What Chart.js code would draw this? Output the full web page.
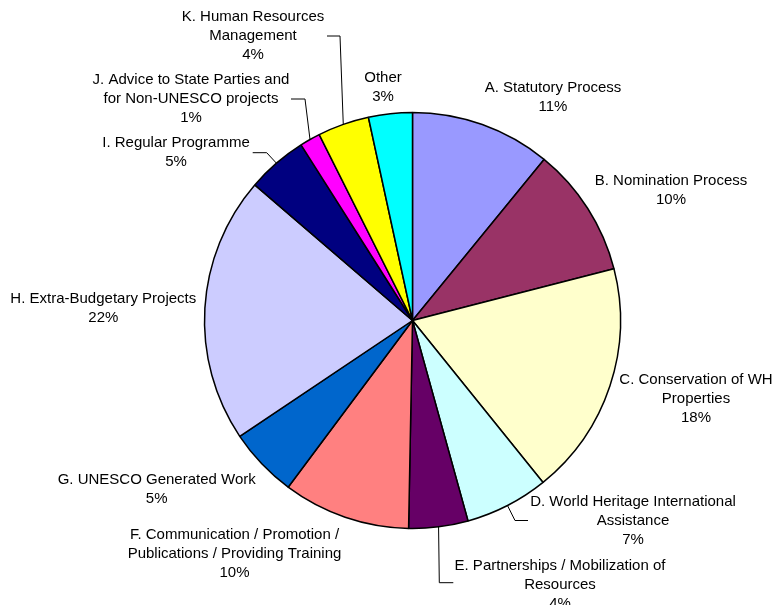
<!DOCTYPE html>
<html>
<head>
<meta charset="utf-8">
<script src="https://cdn.jsdelivr.net/npm/chart.js@4/dist/chart.umd.min.js"></script>
<style>
  html, body { margin: 0; padding: 0; background: #ffffff; }
  #wrap { width: 774px; height: 605px; }
</style>
</head>
<body>
<div id="wrap"><canvas id="c" width="774" height="605"></canvas></div>
<script>
// ---- data ----
const categories = [
  ['A. Statutory Process'],
  ['B. Nomination Process'],
  ['C. Conservation of WH', 'Properties'],
  ['D. World Heritage International', 'Assistance'],
  ['E. Partnerships / Mobilization of', 'Resources'],
  ['F. Communication / Promotion /', 'Publications / Providing Training'],
  ['G. UNESCO Generated Work'],
  ['H. Extra-Budgetary Projects'],
  ['I. Regular Programme'],
  ['J. Advice to State Parties and', 'for Non-UNESCO projects'],
  ['K. Human Resources', 'Management'],
  ['Other']
];
// slice sizes (percent of the whole)
const values = [10.9, 10.1, 18.2, 6.5, 4.6, 9.9, 5.4, 20.7, 4.7, 1.6, 4.0, 3.4];
// percentages printed in the labels
const shownPercent = [11, 10, 18, 7, 4, 10, 5, 22, 5, 1, 4, 3];
const colors = ['#9999FF', '#993366', '#FFFFCC', '#CCFFFF', '#660066', '#FF8080',
                '#0066CC', '#CCCCFF', '#000080', '#FF00FF', '#FFFF00', '#00FFFF'];

// ---- label layout (text block centre x, first-line centre y) ----
const labelPos = [
  [553, 88], [671, 181], [696, 380], [633, 502], [560, 566], [234.5, 535],
  [156.7, 480], [103.3, 299], [176, 143], [191, 80], [253, 17], [383, 78]
];
// leader lines: [elbowX, elbowY, endX] (start is taken from the slice edge)
const leaders = {
  3: [515, 520.5, 528],
  4: [439.3, 582.7, 453.3],
  8: [266.7, 152.7, 252.7],
  9: [305, 99, 291],
  10: [340, 36, 327]
};
const lineH = 19;

const labelPlugin = {
  id: 'pieLabels',
  afterDatasetsDraw(chart) {
    const ctx = chart.ctx;
    const meta = chart.getDatasetMeta(0);
    ctx.save();
    ctx.strokeStyle = '#000';
    ctx.lineWidth = 1;
    Object.keys(leaders).forEach(k => {
      const i = +k;
      const arc = meta.data[i];
      const mid = (arc.startAngle + arc.endAngle) / 2;
      const sx = arc.x + arc.outerRadius * Math.cos(mid);
      const sy = arc.y + arc.outerRadius * Math.sin(mid);
      const [ex, ey, endX] = leaders[k];
      ctx.beginPath();
      ctx.moveTo(sx, sy);
      ctx.lineTo(ex, ey);
      ctx.lineTo(endX, ey);
      ctx.stroke();
    });
    ctx.fillStyle = '#000';
    ctx.font = '15px "Liberation Sans", Arial, sans-serif';
    ctx.textAlign = 'center';
    ctx.textBaseline = 'middle';
    categories.forEach((lines, i) => {
      const all = lines.concat([shownPercent[i] + '%']);
      const [x, y] = labelPos[i];
      all.forEach((t, j) => ctx.fillText(t, x, y + j * lineH));
    });
    ctx.restore();
  }
};

new Chart(document.getElementById('c'), {
  type: 'pie',
  data: {
    labels: categories,
    datasets: [{
      data: values,
      backgroundColor: colors,
      borderColor: '#000000',
      borderWidth: 1.5,
      borderAlign: 'center'
    }]
  },
  options: {
    responsive: false,
    animation: false,
    radius: 208,
    layout: { padding: { left: 51, right: 0, top: 36, bottom: 0 } },
    plugins: {
      legend: { display: false },
      tooltip: { enabled: false }
    }
  },
  plugins: [labelPlugin]
});
</script>
</body>
</html>
